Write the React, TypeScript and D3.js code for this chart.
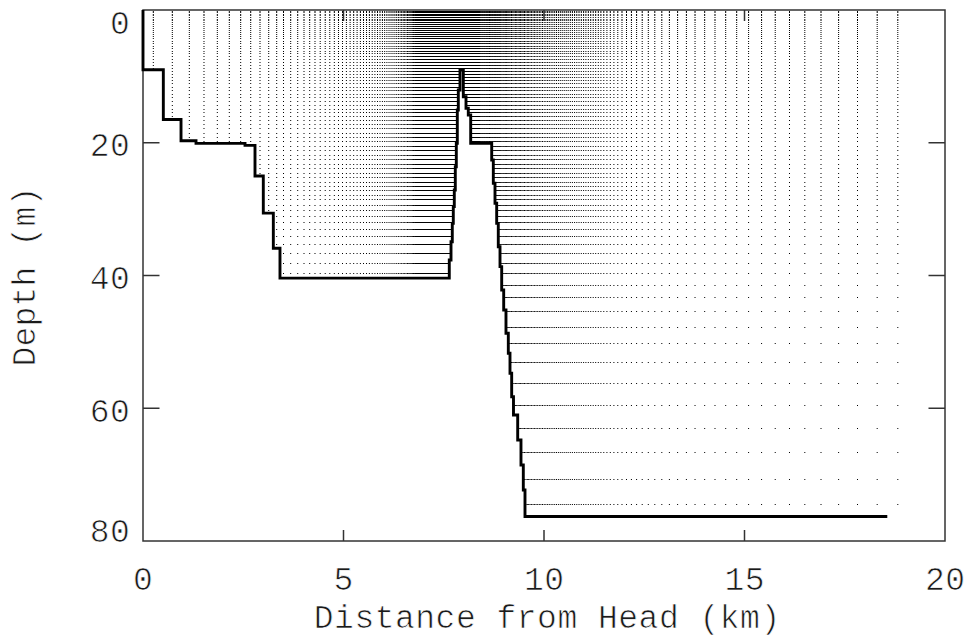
import React, { useMemo } from "react";
import * as d3 from "d3";

// ---- Data ----
// Model grid column centres (km from head)
const COL_KM = [
  0.257, 0.731, 1.155, 1.521, 1.853, 2.152, 2.436, 2.686, 2.918, 3.135, 3.334,
  3.504, 3.683, 3.858, 4.015, 4.157, 4.289, 4.419, 4.544, 4.658, 4.771, 4.875,
  4.975, 5.072, 5.165, 5.254, 5.339, 5.421, 5.499, 5.574, 5.646, 5.716, 5.783,
  5.848, 5.91, 5.97, 6.027, 6.082, 6.135, 6.185, 6.234, 6.282, 6.327, 6.369,
  6.411, 6.451, 6.489, 6.526, 6.561, 6.596, 6.628, 6.658, 6.688, 6.718, 6.746,
  6.773, 6.798,
  6.823, 6.848, 6.873, 6.898, 6.923, 6.948, 6.973, 6.998, 7.022, 7.047, 7.072,
  7.097, 7.122, 7.147, 7.172, 7.197, 7.222, 7.247, 7.272, 7.297, 7.322, 7.347,
  7.372, 7.397, 7.421, 7.446, 7.471, 7.496, 7.521, 7.546, 7.571, 7.596, 7.621,
  7.646, 7.671, 7.696, 7.721, 7.746, 7.771, 7.796, 7.82, 7.845, 7.87, 7.895,
  7.92, 7.945,
  7.97, 7.995, 8.02, 8.045, 8.07, 8.095, 8.12, 8.145, 8.17, 8.195, 8.219,
  8.244, 8.269, 8.294, 8.319, 8.344, 8.369, 8.394,
  8.421, 8.449, 8.476, 8.504, 8.531, 8.559, 8.586, 8.613, 8.641, 8.668, 8.696,
  8.723, 8.751, 8.778, 8.805, 8.833, 8.86, 8.888,
  8.918, 8.948, 8.978, 9.007, 9.037, 9.067, 9.097, 9.127, 9.157, 9.19, 9.222,
  9.254, 9.287, 9.319, 9.352, 9.384, 9.416, 9.449, 9.481, 9.514, 9.549, 9.584,
  9.618, 9.653,
  9.691, 9.728, 9.766, 9.803, 9.843, 9.883, 9.923, 9.963, 10.005, 10.047,
  10.09, 10.132, 10.177, 10.222, 10.267, 10.312, 10.359, 10.406, 10.454,
  10.504, 10.554, 10.603, 10.656,
  10.708, 10.763, 10.818, 10.873, 10.93, 10.988, 11.045, 11.105, 11.165,
  11.227, 11.289, 11.354, 11.419,
  11.491, 11.569, 11.653, 11.743, 11.84, 11.945, 12.057, 12.18, 12.309,
  12.449, 12.601, 12.763, 12.938, 13.127, 13.332, 13.551, 13.766, 14.007,
  14.264, 14.531, 14.805, 15.102, 15.426, 15.766, 16.122, 16.504, 16.908,
  17.347, 17.818, 18.309, 18.823,
];

// Model grid level centres (m below surface)
const ROW_M = [
  0.1, 0.33, 0.56, 0.8, 1.05, 1.3, 1.56, 1.83, 2.1, 2.38, 2.67, 2.97, 3.28,
  3.6, 3.93, 4.27, 4.62, 4.98, 5.35, 5.73, 6.12, 6.52, 6.93, 7.35, 7.78, 8.22,
  8.67, 9.13, 9.6, 10.08, 10.57, 11.07, 11.58, 12.1, 12.63, 13.17, 13.72,
  14.28, 14.85, 15.43, 16.02, 16.62, 17.23, 17.85, 18.48, 19.12, 19.77, 20.43,
  21.1, 21.78, 22.47, 23.17, 23.85, 24.5, 25.2, 25.87, 26.52, 27.15, 27.83,
  28.52, 29.33, 30.13, 31.04, 31.94, 32.95, 34.05, 35.25, 36.56, 38.07, 39.67,
  41.39, 43.28, 45.39, 47.71, 50.21, 53.08, 56.2, 59.51, 63.02, 66.64, 70.66,
  74.47,
];

// Bottom profile, step-after vertices: distance (km) and depth (m)
const BATHY_KM = [
  0, 0, 0.507, 0.948, 1.322, 2.544, 2.793, 3.0, 3.25, 3.416, 7.638, 7.681,
  7.713, 7.738, 7.763, 7.788, 7.813, 7.838, 7.863, 7.905, 7.988, 8.055, 8.112,
  8.172, 8.696, 8.736, 8.778, 8.82, 8.86, 8.903, 8.945, 8.995, 9.052, 9.11,
  9.152, 9.194, 9.239, 9.344, 9.426, 9.484, 9.526, 18.561,
];
const BATHY_M = [
  0, 9.0, 16.5, 19.7, 20.1, 20.4, 25.0, 30.6, 35.9, 40.4, 37.66, 34.91, 32.14,
  29.63, 27.12, 23.61, 20.08, 15.07, 12.05, 9.04, 13.06, 14.81, 15.82, 20.08,
  22.6, 26.11, 29.12, 32.14, 35.66, 38.67, 42.18, 45.2, 48.71, 51.72, 54.73,
  58.26, 61.02, 64.78, 68.55, 72.32, 76.31, 76.31,
];

const X_TICKS = [0, 5, 10, 15, 20];
const Y_TICKS = [0, 20, 40, 60, 80];
const X_TITLE = "Distance from Head (km)";
const Y_TITLE = "Depth (m)";

const W = 972;
const H = 637;
const FONT = "Liberation Mono";
const FS = 33;
const ADV = 20.2;
const INK = "#1a1a1a";
const FRAME = "#333";

function MonoText(props: {
  str: string;
  cx?: number;
  right?: number;
  y: number;
  adv?: number;
  transform?: string;
}) {
  const adv = props.adv ?? ADV;
  const chars = Array.from(props.str);
  const total = chars.length * adv;
  const start =
    props.right !== undefined ? props.right - total : (props.cx ?? 0) - total / 2;
  const xs = chars.map((_, i) => (start + (i + 0.5) * adv).toFixed(2)).join(" ");
  return (
    <text
      x={xs}
      y={props.y}
      transform={props.transform}
      textAnchor="middle"
      fontFamily={FONT}
      fontSize={FS}
      fill={INK}
      stroke="#fff"
      strokeWidth={0.7}
      style={{ whiteSpace: "pre" }}
    >
      {props.str}
    </text>
  );
}

export default function App() {
  const x = d3.scaleLinear().domain([0, 20]).range([143, 945]);
  const y = d3.scaleLinear().domain([0, 80]).range([10, 541]);

  const bathy = useMemo(
    () => BATHY_KM.map((k, i) => [k, BATHY_M[i]] as [number, number]),
    []
  );

  const depthAt = (km: number) => {
    let d = 0;
    for (let i = 0; i < BATHY_KM.length; i++) {
      if (BATHY_KM[i] <= km) d = BATHY_M[i];
      else break;
    }
    return d;
  };

  const dotPath = useMemo(() => {
    const parts: string[] = [];
    for (const c of COL_KM) {
      const bottom = depthAt(c);
      const px = (x(c) - 0.5).toFixed(2);
      for (const r of ROW_M) {
        if (r >= bottom) break;
        const py = Math.round(y(r));
        parts.push(`M${px} ${py}h1v1h-1z`);
      }
    }
    return parts.join("");
  }, []);

  const line = d3
    .line<[number, number]>()
    .x((d) => x(d[0]))
    .y((d) => y(d[1]))
    .curve(d3.curveStepAfter);

  const [x0, x1] = x.range();
  const [y0, y1] = y.range();
  const xTickLen = 11;
  const yTickLen = 16.5;

  return (
    <svg
      width={W}
      height={H}
      viewBox={`0 0 ${W} ${H}`}
      style={{ position: "absolute", left: 0, top: 0, background: "#fff" }}
    >
      <rect x={0} y={0} width={W} height={H} fill="#fff" />
      {/* grid nodes */}
      <path d={dotPath} fill="#000" />

      {/* frame */}
      <rect
        x={x0}
        y={y0}
        width={x1 - x0}
        height={y1 - y0}
        fill="none"
        stroke={FRAME}
        strokeWidth={1.5}
      />
      {/* x ticks (bottom and top, inward) */}
      {X_TICKS.filter((t) => t > 0 && t < 20).map((t) => (
        <g key={`xt${t}`} stroke={FRAME} strokeWidth={1.5}>
          <line x1={x(t)} x2={x(t)} y1={y1} y2={y1 - xTickLen} />
          <line x1={x(t)} x2={x(t)} y1={y0} y2={y0 + xTickLen} />
        </g>
      ))}
      {/* y ticks (left and right, inward) */}
      {Y_TICKS.filter((t) => t > 0 && t < 80).map((t) => (
        <g key={`yt${t}`} stroke={FRAME} strokeWidth={1.5}>
          <line x1={x0} x2={x0 + yTickLen} y1={y(t)} y2={y(t)} />
          <line x1={x1} x2={x1 - yTickLen} y1={y(t)} y2={y(t)} />
        </g>
      ))}

      {/* bottom profile */}
      <path
        d={line(bathy) ?? ""}
        fill="none"
        stroke="#000"
        strokeWidth={2.9}
        strokeLinejoin="miter"
      />

      {/* tick labels */}
      {X_TICKS.map((t) => (
        <MonoText key={`xl${t}`} str={String(t)} cx={x(t)} y={590} />
      ))}
      {Y_TICKS.map((t) => (
        <MonoText
          key={`yl${t}`}
          str={String(t)}
          right={130}
          y={Math.min(541.5, Math.max(33.5, y(t) + 13.5))}
        />
      ))}

      {/* axis titles */}
      <MonoText str={X_TITLE} cx={547} y={628} adv={20.3} />
      <MonoText
        str={Y_TITLE}
        cx={0}
        y={0}
        adv={20}
        transform={`translate(35, 276.7) rotate(-90)`}
      />
    </svg>
  );
}
